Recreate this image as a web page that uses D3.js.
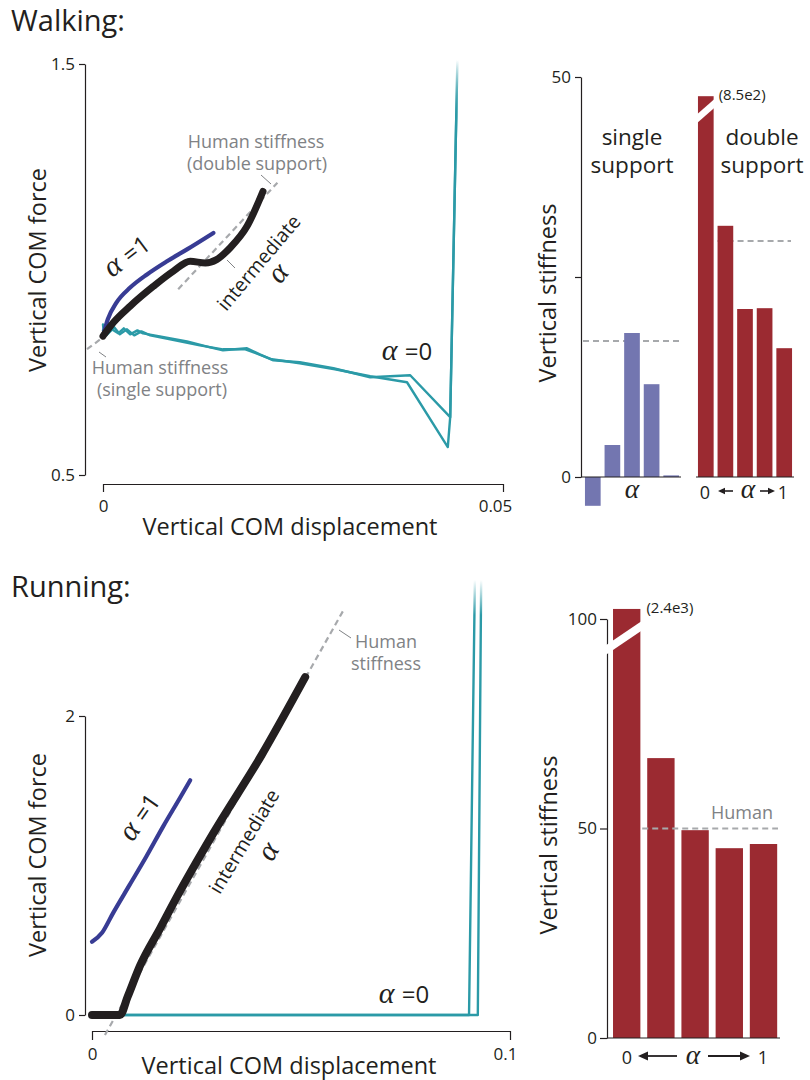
<!DOCTYPE html>
<html>
<head>
<meta charset="utf-8">
<script src="https://cdn.jsdelivr.net/npm/d3@7"></script>
<style>
  body { margin: 0; background: #fff; }
  text { font-family: "Open Sans", sans-serif; fill: #231f20; }
</style>
</head>
<body>
<svg id="fig" width="810" height="1080"></svg>
<script>
// ---------- Walking: force vs displacement (displacement in m, force in body weights)
const walkAlpha1 = [[0,0.838],[0.0006,0.879],[0.0017,0.920],[0.0034,0.956],[0.0055,0.988],[0.0080,1.020],[0.0105,1.049],[0.0138,1.089]];
const walkIntermediate = [[0,0.838],[0.0013,0.871],[0.0034,0.911],[0.0063,0.959],[0.0088,0.996],[0.0109,1.020],[0.0128,1.016],[0.0142,1.024],[0.0159,1.053],[0.0180,1.105],[0.0200,1.190]];
const walkAlpha0a = [[0,0.8665],[0.00013,0.8374],[0.0011,0.8544],[0.0019,0.8447],[0.0026,0.8568],[0.0034,0.8422],[0.0043,0.8519],[0.0050,0.8447],[0.0071,0.8374],[0.0105,0.8252],[0.0134,0.8107],[0.0150,0.8034],[0.0180,0.8083],[0.0196,0.7937],[0.0213,0.7791],[0.0246,0.7743],[0.0288,0.7597],[0.0334,0.7379],[0.0384,0.7427],[0.0434,0.6408],[0.0443,1.51]];
const walkAlpha0b = [[0,0.852],[0.0004,0.8398],[0.0014,0.8592],[0.0021,0.8422],[0.0030,0.8544],[0.0039,0.8398],[0.0048,0.8495],[0.0059,0.8398],[0.0084,0.8301],[0.0121,0.8155],[0.0150,0.8058],[0.0178,0.8058],[0.0211,0.7816],[0.0246,0.7718],[0.0290,0.7573],[0.0334,0.7403],[0.0380,0.7257],[0.0431,0.568],[0.0434,0.6408],[0.0443,1.51]];
const walkHumanDouble = [[0.0094,0.952],[0.0218,1.211]];
const walkHumanSingle = [[-0.002,0.806],[0,0.835]];
const walkXTicks = [0, 0.05];
const walkYTicks = [0.5, 1.5];

// ---------- Walking: vertical stiffness per alpha (0 -> 1)
const alphaSteps = [0, 1, 2, 3, 4];
const walkSingleStiff = [-3.6, 4.0, 18.0, 11.6, 0.2];
const walkDoubleStiff = [850, 31.4, 21.0, 21.1, 16.1];
const walkHumanSingleStiff = 17;
const walkHumanDoubleStiff = 29.5;
const walkStiffTicks = [0, 25, 50];
const walkStiffCap = 47.6;

// ---------- Running: force vs displacement
const runAlpha1 = [[0,0.49],[0.0024,0.55],[0.0050,0.68],[0.0090,0.87],[0.0130,1.06],[0.0170,1.26],[0.0210,1.45],[0.0235,1.57]];
const runIntermediate = [[0,0],[0.0067,0],[0.0085,0.12],[0.0115,0.33],[0.0163,0.58],[0.0203,0.79],[0.0289,1.21],[0.0406,1.74],[0.0510,2.26]];
const runAlpha0a = [[0,0],[0.0902,0],[0.0916,2.91]];
const runAlpha0b = [[0,0],[0.0923,0],[0.0931,2.91]];
const runHuman = [[0.0031,-0.134],[0.0600,2.70]];
const runXTicks = [0, 0.1];
const runYTicks = [0, 2];

// ---------- Running: vertical stiffness per alpha
const runStiff = [2400, 66.8, 49.6, 45.3, 46.3];
const runHumanStiff = 50;
const runStiffTicks = [0, 50, 100];
const runStiffCap = 102.4;

// ---------- styling
const INK = "#231f20";
const GREY = "#808285";
const DASH = "#a7a9ac";
const TEAL = "#2b9aa7";
const NAVY = "#383c94";
const BAR_BLUE = "#7376b0";
const BAR_RED = "#9b2a31";
const SERIF = '"Liberation Serif", "Times New Roman", serif';

const svg = d3.select("#fig");
const defs = svg.append("defs");

function fadeGradient(id, y0, y1) {
  const g = defs.append("linearGradient").attr("id", id)
    .attr("gradientUnits", "userSpaceOnUse")
    .attr("x1", 0).attr("x2", 0).attr("y1", y0).attr("y2", y1);
  g.append("stop").attr("offset", 0).attr("stop-color", TEAL).attr("stop-opacity", 0);
  g.append("stop").attr("offset", 0.35).attr("stop-color", TEAL).attr("stop-opacity", 0.35);
  g.append("stop").attr("offset", 1).attr("stop-color", TEAL).attr("stop-opacity", 1);
}

function styleAxis(g) {
  g.selectAll("path, line").attr("stroke", INK).attr("stroke-width", 1.2);
  g.selectAll("text").attr("font-size", 17).attr("fill", INK)
    .style("font-family", '"Open Sans", sans-serif');
}

function curve(g, data, x, y, color, width, c) {
  g.append("path").datum(data)
    .attr("d", d3.line().x(d => x(d[0])).y(d => y(d[1])).curve(c || d3.curveLinear))
    .attr("fill", "none").attr("stroke", color).attr("stroke-width", width)
    .attr("stroke-linecap", "round").attr("stroke-linejoin", "round");
}

function dashed(g, data, x, y) {
  g.append("path").datum(data)
    .attr("d", d3.line().x(d => x(d[0])).y(d => y(d[1])))
    .attr("fill", "none").attr("stroke", DASH).attr("stroke-width", 2.2)
    .attr("stroke-dasharray", "6,4");
}

function label(g, x, y, txt, opts = {}) {
  return g.append("text").attr("x", x).attr("y", y)
    .attr("text-anchor", opts.anchor || "middle")
    .attr("font-size", opts.size || 17)
    .style("fill", opts.color || INK)
    .text(txt);
}

function rotLabel(g, x, y, rot, txt, size) {
  return g.append("text").attr("transform", `translate(${x},${y}) rotate(${rot})`)
    .attr("text-anchor", "middle").attr("font-size", size).text(txt);
}

function alphaLabel(g, x, y, rot, rest, size) {
  const t = g.append("text").attr("transform", `translate(${x},${y}) rotate(${rot})`)
    .attr("text-anchor", "middle").attr("font-size", size);
  t.append("tspan").style("font-family", SERIF).style("font-style", "italic")
    .attr("font-size", size * 1.25).text("α");
  if (rest) t.append("tspan").attr("dx", size * 0.3).text(rest);
  return t;
}

function leader(g, x1, y1, x2, y2) {
  g.append("line").attr("x1", x1).attr("y1", y1).attr("x2", x2).attr("y2", y2)
    .attr("stroke", GREY).attr("stroke-width", 1);
}

function arrow(g, xFrom, xTip, y, head, thick) {
  const dir = Math.sign(xTip - xFrom);
  g.append("line").attr("x1", xFrom).attr("x2", xTip - dir * head * 0.8).attr("y1", y).attr("y2", y)
    .attr("stroke", INK).attr("stroke-width", thick);
  g.append("path")
    .attr("d", `M${xTip},${y} L${xTip - dir * head},${y - head * 0.45} L${xTip - dir * head},${y + head * 0.45} Z`)
    .attr("fill", INK);
}

// ================= WALKING =================
label(svg, 11, 31, "Walking:", { anchor: "start", size: 29 });

{
  const g = svg.append("g");
  const x = d3.scaleLinear([0, 0.05], [103, 503]);
  const y = d3.scaleLinear([0.5, 1.5], [475, 64]);

  g.append("g").attr("transform", "translate(85,0)")
    .call(d3.axisLeft(y).tickValues(walkYTicks).tickSize(6).tickSizeOuter(0).tickPadding(4).tickFormat(d3.format(".1f")))
    .call(styleAxis);
  g.append("g").attr("transform", "translate(0,484)")
    .call(d3.axisBottom(x).tickValues(walkXTicks).tickSize(8).tickSizeOuter(0).tickPadding(8).tickFormat(d => d === 0 ? "0" : d3.format(".2f")(d)))
    .call(styleAxis)
    .call(a => a.selectAll(".tick text").filter(d => d !== 0).attr("dx", -8));

  fadeGradient("walkFade", 60, 118);
  dashed(g, walkHumanSingle, x, y);
  dashed(g, walkHumanDouble, x, y);
  curve(g, walkAlpha0b, x, y, "url(#walkFade)", 2.4);
  curve(g, walkAlpha0a, x, y, "url(#walkFade)", 2.4);
  curve(g, walkAlpha1, x, y, NAVY, 4.2, d3.curveMonotoneX);
  curve(g, walkIntermediate, x, y, INK, 7, d3.curveMonotoneX);

  // annotations
  label(g, 256, 148, "Human stiffness", { size: 18, color: GREY });
  label(g, 257, 170, "(double support)", { size: 18, color: GREY });
  leader(g, 261, 175, 271, 184);
  label(g, 160, 374, "Human stiffness", { size: 18, color: GREY });
  label(g, 162, 396, "(single support)", { size: 18, color: GREY });
  leader(g, 99, 352, 106, 357);
  leader(g, 227, 260, 235, 268);

  alphaLabel(g, 132, 263, -37, "=1", 24);
  rotLabel(g, 264, 267, -50, "intermediate", 19.5);
  alphaLabel(g, 285, 279, -50, null, 24);
  alphaLabel(g, 407, 360, 0, "=0", 24);

  rotLabel(g, 46, 270, -90, "Vertical COM force", 23.5);
  label(g, 290, 535, "Vertical COM displacement", { size: 23.5 });
}

{
  const g = svg.append("g");
  const y = d3.scaleLinear([0, 50], [477, 77]);
  const xs = d3.scaleBand(alphaSteps, [583, 681]).paddingInner(0.2).paddingOuter(0.1);
  const xd = d3.scaleBand(alphaSteps, [696, 794]).paddingInner(0.2).paddingOuter(0.1);

  g.append("line").attr("x1", 679).attr("x2", 581).attr("y1", y(walkHumanSingleStiff)).attr("y2", y(walkHumanSingleStiff))
    .attr("stroke", DASH).attr("stroke-width", 2.2).attr("stroke-dasharray", "6,4");
  g.append("line").attr("x1", xd(1)).attr("x2", 791).attr("y1", y(walkHumanDoubleStiff)).attr("y2", y(walkHumanDoubleStiff))
    .attr("stroke", DASH).attr("stroke-width", 2.2).attr("stroke-dasharray", "6,4");

  g.selectAll(".bs").data(walkSingleStiff).join("rect")
    .attr("x", (d, i) => xs(i)).attr("width", xs.bandwidth())
    .attr("y", d => y(Math.max(0, d))).attr("height", d => Math.abs(y(d) - y(0)))
    .attr("fill", BAR_BLUE);
  g.selectAll(".bd").data(walkDoubleStiff).join("rect")
    .attr("x", (d, i) => xd(i)).attr("width", xd.bandwidth())
    .attr("y", d => y(Math.min(d, walkStiffCap))).attr("height", d => y(0) - y(Math.min(d, walkStiffCap)))
    .attr("fill", BAR_RED);
  // axis break on the off-scale bar
  g.append("line").attr("x1", xd(0) - 3).attr("y1", 120.5).attr("x2", xd(0) + xd.bandwidth() + 3).attr("y2", 101.5)
    .attr("stroke", "#fff").attr("stroke-width", 6.5);
  label(g, xd(0) + xd.bandwidth() + 5, 100, `(${d3.format(".1e")(walkDoubleStiff[0]).replace("+", "")})`, { anchor: "start", size: 15 });

  g.append("g").attr("transform", "translate(581,0)")
    .call(d3.axisLeft(y).tickValues(walkStiffTicks).tickSize(6).tickSizeOuter(0).tickPadding(4).tickFormat(d => d === 25 ? "" : d))
    .call(styleAxis);
  g.append("line").attr("x1", 581).attr("x2", 681).attr("y1", y(0)).attr("y2", y(0)).attr("stroke", INK).attr("stroke-width", 1.2);
  g.append("line").attr("x1", 696).attr("x2", 794).attr("y1", y(0)).attr("y2", y(0)).attr("stroke", INK).attr("stroke-width", 1.2);

  label(g, 632, 145, "single", { size: 22.5 });
  label(g, 632, 173, "support", { size: 22.5 });
  label(g, 762, 145, "double", { size: 22.5 });
  label(g, 762, 173, "support", { size: 22.5 });

  alphaLabel(g, 632, 498, 0, null, 22);
  label(g, 705, 499, "0", { size: 18 });
  arrow(g, 733, 718, 491, 7, 1.6);
  alphaLabel(g, 748, 498, 0, null, 22);
  arrow(g, 760, 775, 491, 7, 1.6);
  label(g, 783, 499, "1", { size: 18 });

  rotLabel(g, 556, 293, -90, "Vertical stiffness", 23.5);
}

// ================= RUNNING =================
label(svg, 11, 597, "Running:", { anchor: "start", size: 29 });

{
  const g = svg.append("g");
  const x = d3.scaleLinear([0, 0.1], [92, 510]);
  const y = d3.scaleLinear([0, 2], [1015, 716]);

  g.append("g").attr("transform", "translate(85,0)")
    .call(d3.axisLeft(y).tickValues(runYTicks).tickSize(6).tickSizeOuter(0).tickPadding(4).tickFormat(d3.format("d")))
    .call(styleAxis);
  g.append("g").attr("transform", "translate(0,1031)")
    .call(d3.axisBottom(x).tickValues(runXTicks).tickSize(9).tickSizeOuter(0).tickPadding(8).tickFormat(d => d === 0 ? "0" : d3.format(".1f")(d)))
    .call(styleAxis)
    .call(a => a.selectAll(".tick text").filter(d => d !== 0).attr("dx", -5));

  fadeGradient("runFade", 580, 615);
  dashed(g, runHuman, x, y);
  curve(g, runAlpha0a, x, y, "url(#runFade)", 2.4);
  curve(g, runAlpha0b, x, y, "url(#runFade)", 2.4);
  curve(g, runAlpha1, x, y, NAVY, 4.2, d3.curveMonotoneX);
  curve(g, runIntermediate, x, y, INK, 8, d3.curveMonotoneX);

  label(g, 386, 648, "Human", { size: 18, color: GREY });
  label(g, 386, 670, "stiffness", { size: 18, color: GREY });
  leader(g, 339, 630, 351, 638);

  alphaLabel(g, 147, 822, -55, "=1", 24);
  rotLabel(g, 250, 845, -59, "intermediate", 19.5);
  alphaLabel(g, 276, 856, -59, null, 24);
  alphaLabel(g, 404, 1003, 0, "=0", 24);

  rotLabel(g, 46, 855, -90, "Vertical COM force", 23.5);
  label(g, 289, 1074, "Vertical COM displacement", { size: 23.5 });
}

{
  const g = svg.append("g");
  const y = d3.scaleLinear([0, 100], [1038, 619]);
  const xb = d3.scaleBand(alphaSteps, [609.6, 780.6]).paddingInner(0.2).paddingOuter(0.1);

  g.selectAll(".br").data(runStiff).join("rect")
    .attr("x", (d, i) => xb(i)).attr("width", xb.bandwidth())
    .attr("y", d => y(Math.min(d, runStiffCap))).attr("height", d => y(0) - y(Math.min(d, runStiffCap)))
    .attr("fill", BAR_RED);

  g.append("line").attr("x1", xb(1) - 5).attr("x2", 778).attr("y1", y(runHumanStiff)).attr("y2", y(runHumanStiff))
    .attr("stroke", DASH).attr("stroke-width", 2.2).attr("stroke-dasharray", "6,4");
  label(g, 742, 819, "Human", { size: 18, color: GREY });

  g.append("g").attr("transform", "translate(607,0)")
    .call(d3.axisLeft(y).tickValues(runStiffTicks).tickSize(7).tickSizeOuter(0).tickPadding(3))
    .call(styleAxis);
  g.append("line").attr("x1", 607).attr("x2", 780).attr("y1", y(0)).attr("y2", y(0)).attr("stroke", INK).attr("stroke-width", 1.2);

  // axis break through the off-scale bar and the axis line
  g.append("line").attr("x1", 603).attr("y1", 652).attr("x2", xb(0) + xb.bandwidth() + 4).attr("y2", 624)
    .attr("stroke", "#fff").attr("stroke-width", 8);
  label(g, xb(0) + xb.bandwidth() + 6, 613, `(${d3.format(".1e")(runStiff[0]).replace("+", "")})`, { anchor: "start", size: 15 });

  label(g, 627, 1064, "0", { size: 18 });
  arrow(g, 677, 638, 1056, 10, 1.8);
  alphaLabel(g, 693, 1064, 0, null, 22);
  arrow(g, 708, 750, 1056, 10, 1.8);
  label(g, 763, 1064, "1", { size: 18 });

  rotLabel(g, 557, 845, -90, "Vertical stiffness", 23.5);
}
</script>
</body>
</html>
